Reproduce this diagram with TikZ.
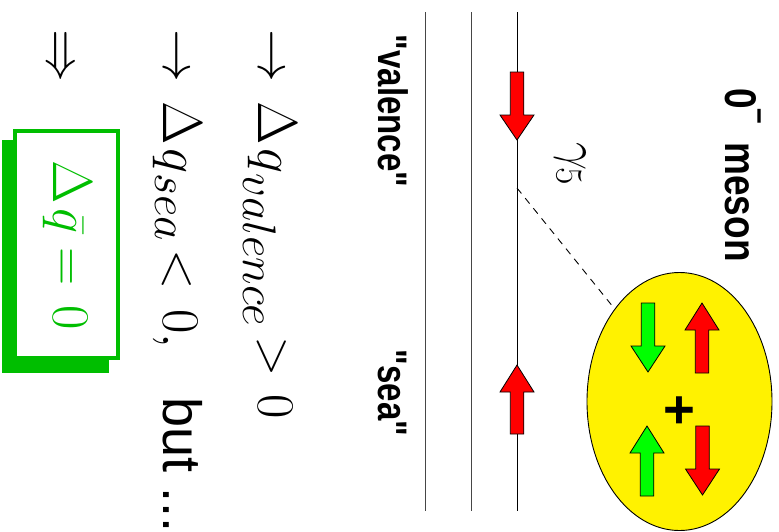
\RequirePackage{fix-cm}
\documentclass[tikz,border=0pt]{standalone}
\usepackage[no-math]{fontspec}
\usepackage{graphicx}
\usetikzlibrary{shapes.geometric}
\newfontfamily\hv{Liberation Sans}
\DeclareMathSizes{53}{53}{47}{34}
\DeclareMathSizes{50}{50}{38}{28}
\definecolor{boxgreen}{RGB}{0,190,0}
\definecolor{linegray}{RGB}{70,70,70}
\tikzset{
  rot/.style={rotate=-90, inner sep=0pt, outer sep=0pt},
  quarkline/.style={line width=1pt},
  arrowline/.style={draw=black, line width=0.8pt, line join=miter},
}
\newcommand\blockarr[5]{%
  \draw[arrowline, fill=#5] ({#1-6.75},#4) -- ({#1+6.75},#4) -- ({#1+6.75},#3) -- ({#1+17},#3) -- (#1,#2) -- ({#1-17},#3) -- ({#1-6.75},#3) -- cycle;}
\newcommand\mathbig{\fontsize{53}{58}\selectfont}
\newcommand\piece[2]{\makebox[#1][l]{$#2$}}
\newcommand\bigdelta{\scalebox{1.06}{$\Delta$}}
\begin{document}
\begin{tikzpicture}[x=1pt,y=-1pt]
\useasboundingbox (0,0) rectangle (779,531);
% quark lines
\coordinate (a1) at (425,12); \coordinate (a2) at (425,511);
\coordinate (b1) at (471,12); \coordinate (b2) at (471,511);
\coordinate (c1) at (517,12); \coordinate (c2) at (517,511);
\draw[quarkline, linegray] (a1) -- (a2);
\draw[quarkline, linegray] (b1) -- (b2);
\draw[quarkline, black] (c1) -- (c2);
% spin arrows on the line
\blockarr{517}{140}{115}{72}{red}
\blockarr{517}{365}{392}{434}{red}
% meson
\node[ellipse, draw=black, line width=0.9pt, fill=yellow, minimum width=185pt, minimum height=258pt, inner sep=0pt] (ell) at (679.5,401.5) {};
\coordinate (v5) at (517,188);
\draw[line width=0.9pt, dash pattern=on 7pt off 6pt] (v5) -- (ell.125);
\blockarr{648}{372}{346}{303}{green}
\blockarr{702}{303}{330}{373}{red}
\blockarr{647}{426}{453}{496}{green}
\blockarr{702.5}{495}{469}{426}{red}
\node[rot] (plus) at (677,410) {\hv\bfseries\fontsize{54}{54}\selectfont +};
% labels
\node[rot, anchor=base] (mes) at (725,175) {\hv\bfseries\fontsize{37}{44}\selectfont\scalebox{1}[1.2]{0\raisebox{21pt}{\fontsize{28}{28}\selectfont\textendash}\hspace{18pt}meson}};
\node[rot, anchor=base] (val) at (378,111) {\hv\bfseries\fontsize{33}{40}\selectfont\scalebox{1}[1.25]{"valence"}};
\node[rot, anchor=base] (sea) at (378,393) {\hv\bfseries\fontsize{33}{40}\selectfont\scalebox{1}[1.25]{"sea"}};
\node[rot] (g5) at (570,164) {\fontsize{50}{54}\selectfont$\gamma_5$};
% equations
\node[rot, anchor=base west] (l1) at (258,29) {\mathbig\piece{72pt}{\rightarrow}\makebox[47pt][l]{\bigdelta}\piece{188pt}{q_{\mkern1mu valence}}\piece{58.5pt}{>}$0$};
\node[rot, anchor=base west] (l2) at (163,29) {\mathbig\piece{72pt}{\rightarrow}\makebox[47pt][l]{\bigdelta}\piece{101pt}{q_{\mkern1mu sea}}\piece{60.5pt}{<}$0,$};
\node[rot, anchor=base west] (l2b) at (163,397) {\hv\fontsize{54}{60}\selectfont but ...};
\node[rot, anchor=base west] (l3) at (47,29) {\mathbig$\Rightarrow$};
% result box
\fill[boxgreen] (2,140) rectangle (109,373);
\node[draw=boxgreen, line width=4pt, fill=white, minimum width=103pt, minimum height=227pt, inner sep=0pt] (box) at (66.5,244.5) {};
\node[rot, anchor=base west, text=boxgreen] (bt) at (53,160) {\mathbig\makebox[48.5pt][l]{\bigdelta}\piece{38.5pt}{\bar q}\piece{58.5pt}{=}$0$};
\end{tikzpicture}
\end{document}
